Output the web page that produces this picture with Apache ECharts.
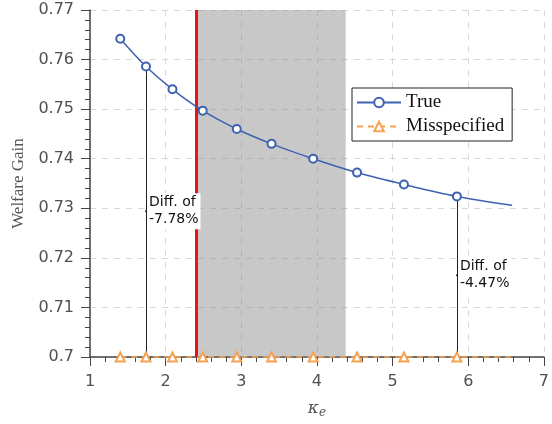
<!DOCTYPE html>
<html>
<head>
<meta charset="utf-8">
<script src="https://cdn.jsdelivr.net/npm/echarts@6/dist/echarts.min.js"></script>
<style>
  html, body { margin: 0; padding: 0; background: #fff; }
  #chart { width: 552px; height: 424px; }
</style>
</head>
<body>
<div id="chart"></div>
<script>
// kappa_e values where the curves were sampled (last one has no marker)
var kappa = [1.4, 1.74, 2.09, 2.49, 2.94, 3.4, 3.95, 4.53, 5.15, 5.85, 6.58];
var trueGain = [0.7642, 0.7586, 0.754, 0.7497, 0.746, 0.743, 0.740, 0.7372, 0.7348, 0.7324, 0.7306];
var missGain = [0.7, 0.7, 0.7, 0.7, 0.7, 0.7, 0.7, 0.7, 0.7, 0.7, 0.7];

// red line and shaded region
var redLineX = 2.4;
var shadeFrom = 2.4;
var shadeTo = 4.38;

// difference annotations
var diffX = [1.74, 5.85];
var diffTop = [0.7586, 0.7324];
var diffLabelY = [0.7294, 0.7165];
var diffText = ['-7.78%', '-4.47%'];

var xTicks = [1, 7, 1];
var yTicks = [0.7, 0.77, 0.01];

function pairs(xs, ys) {
  return xs.map(function (x, i) {
    var p = { value: [x, ys[i]] };
    if (i === xs.length - 1) p.symbol = 'none';
    return p;
  });
}

var chartDom = document.getElementById('chart');
var myChart = echarts.init(chartDom);
var option;

var axisText = { color: '#505050', fontFamily: 'DejaVu Sans', fontSize: 16 };

option = {
  animation: false,
  grid: { left: 90, right: 7, top: 10, bottom: 64 },
  legend: {
    left: 352,
    top: 88,
    orient: 'vertical',
    itemWidth: 44,
    itemHeight: 12,
    itemGap: 5,
    padding: [5, 8, 5, 4],
    borderColor: '#222',
    borderWidth: 1,
    backgroundColor: '#fff',
    textStyle: { fontFamily: 'Liberation Serif', fontSize: 19, color: '#111' },
    data: ['True', 'Misspecified']
  },
  xAxis: {
    type: 'value',
    min: xTicks[0],
    max: xTicks[1],
    interval: xTicks[2],
    name: '{k|κ}{s|e}',
    nameLocation: 'middle',
    nameGap: 42,
    nameTextStyle: {
      rich: {
        k: { fontFamily: 'DejaVu Serif', fontStyle: 'italic', fontSize: 17, color: '#555' },
        s: { fontFamily: 'DejaVu Serif', fontStyle: 'italic', fontSize: 12, color: '#555', padding: [8, 0, 0, 0] }
      }
    },
    axisLine: { show: true, onZero: false, lineStyle: { color: '#444', width: 1.5 } },
    axisTick: { show: true, length: 9, lineStyle: { color: '#444' } },
    minorTick: { show: true, splitNumber: 5, length: 5, lineStyle: { color: '#444' } },
    axisLabel: Object.assign({ margin: 17 }, axisText),
    splitLine: { show: true, lineStyle: { color: '#d8d8d8', type: [6, 6] } }
  },
  yAxis: {
    type: 'value',
    min: yTicks[0],
    max: yTicks[1],
    interval: yTicks[2],
    name: 'Welfare Gain',
    nameLocation: 'middle',
    nameGap: 62,
    nameTextStyle: { fontFamily: 'Liberation Serif', fontSize: 17, color: '#555' },
    axisLine: { show: true, onZero: false, lineStyle: { color: '#444', width: 1.5 } },
    axisTick: { show: true, length: 9, lineStyle: { color: '#444' } },
    minorTick: { show: true, splitNumber: 5, length: 5, lineStyle: { color: '#444' } },
    axisLabel: Object.assign({ margin: 16 }, axisText),
    splitLine: { show: true, lineStyle: { color: '#d8d8d8', type: [6, 6] } }
  },
  series: [
    {
      // shaded region
      name: 'region',
      type: 'line',
      data: [],
      z: 1,
      silent: true,
      markArea: {
        silent: true,
        itemStyle: { color: 'rgba(140,140,140,0.48)' },
        data: [[{ xAxis: shadeFrom }, { xAxis: shadeTo }]]
      }
    },
    {
      name: 'diff',
      type: 'line',
      data: [],
      z: 3,
      silent: true,
      markLine: {
        silent: true,
        symbol: 'none',
        label: { show: false },
        lineStyle: { color: '#222', width: 1, type: 'solid' },
        data: diffX.map(function (x, i) {
          return [{ coord: [x, diffTop[i]] }, { coord: [x, yTicks[0]] }];
        })
      },
      markPoint: {
        silent: true,
        symbol: 'circle',
        symbolSize: 2,
        itemStyle: { color: '#222' },
        label: {
          show: true,
          position: 'right',
          distance: 1,
          color: '#111',
          fontFamily: 'DejaVu Sans',
          fontSize: 14,
          lineHeight: 17,
          backgroundColor: '#fff',
          padding: [1, 2, 1, 1],
          formatter: function (p) { return 'Diff. of\n' + p.name; }
        },
        data: diffX.map(function (x, i) {
          return { name: diffText[i], coord: [x, diffLabelY[i]] };
        })
      }
    },
    {
      name: 'True',
      type: 'line',
      smooth: 0.3,
      z: 5,
      symbol: 'emptyCircle',
      symbolSize: 8,
      color: '#3d62b0',
      lineStyle: { width: 1.5, color: '#3d62b0' },
      itemStyle: { color: '#3d62b0', borderWidth: 1 },
      data: pairs(kappa, trueGain)
    },
    {
      name: 'Misspecified',
      type: 'line',
      z: 5,
      clip: false,
      symbol: 'emptyTriangle',
      symbolSize: 9,
      color: '#f6a24f',
      lineStyle: { width: 1.5, color: '#f6a24f', type: [6, 5] },
      itemStyle: { color: '#f6a24f', borderWidth: 1 },
      data: pairs(kappa, missGain)
    },
    {
      name: 'red',
      type: 'line',
      data: [],
      z: 6,
      silent: true,
      markLine: {
        silent: true,
        symbol: 'none',
        label: { show: false },
        lineStyle: { color: '#ee1111', width: 3, type: 'solid' },
        data: [{ xAxis: redLineX }]
      }
    }
  ]
};
myChart.setOption(option);
</script>
</body>
</html>
